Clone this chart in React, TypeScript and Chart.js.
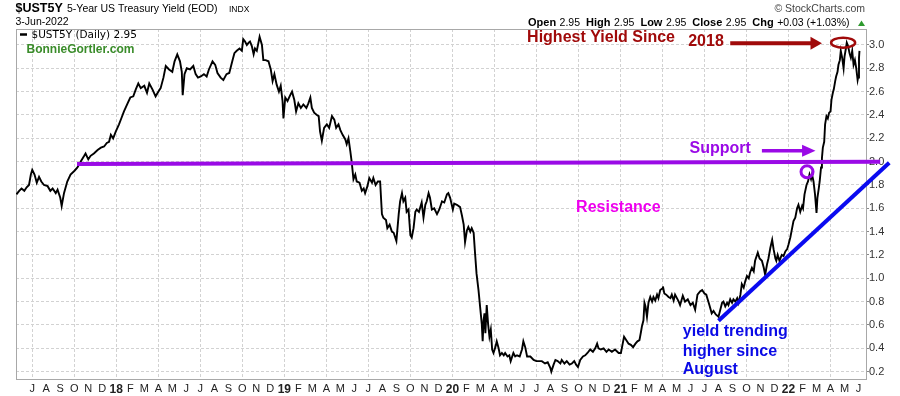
import { useEffect, useRef } from 'react';
import { Chart, registerables } from 'chart.js';

Chart.register(...registerables);

// ---- data: month-day per year + yields ----
const days2017: string[] = [
  '05-28','06-03','06-08','06-14','06-19','06-24','06-28','07-01','07-06','07-11',
  '07-16','07-21','07-27','08-04','08-10','08-15','08-22','08-26','09-01','09-04',
  '09-09','09-16','09-23','10-01','10-08','10-15','10-23','10-26','11-01','11-06',
  '11-13','11-21','11-28','12-05','12-11','12-16','12-20','12-25','12-31',
];
const yields2017: number[] = [
  1.72,1.75,1.77,1.75,1.78,1.80,1.89,1.93,1.89,1.82,
  1.87,1.83,1.80,1.79,1.75,1.77,1.73,1.76,1.69,1.62,
  1.73,1.83,1.89,1.92,1.95,2.00,2.05,2.07,2.02,2.05,
  2.07,2.10,2.12,2.13,2.16,2.17,2.23,2.20,2.26,
];
const days2018: string[] = [
  '01-07','01-12','01-18','01-26','02-01','02-07','02-12','02-17','02-22','03-01',
  '03-07','03-12','03-19','03-26','04-01','04-06','04-12','04-17','04-24','05-01',
  '05-06','05-12','05-18','05-22','05-24','05-28','06-02','06-09','06-16','06-21',
  '06-26','07-02','07-09','07-15','07-20','07-28','08-03','08-08','08-15','08-21',
  '08-28','09-03','09-10','09-14','09-19','09-25','09-30','10-03','10-07','10-11',
  '10-15','10-18','10-22','10-26','10-29','11-02','11-08','11-13','11-16','11-21',
  '11-27','12-02','12-06','12-10','12-15','12-20','12-24','12-28','12-30',
];
const yields2018: number[] = [
  2.32,2.37,2.43,2.50,2.55,2.56,2.62,2.67,2.63,2.65,
  2.59,2.67,2.62,2.56,2.60,2.63,2.72,2.82,2.79,2.77,
  2.86,2.92,2.86,2.77,2.57,2.75,2.80,2.79,2.82,2.75,
  2.72,2.73,2.75,2.73,2.79,2.86,2.83,2.76,2.72,2.70,
  2.75,2.76,2.87,2.93,2.95,2.97,2.95,3.05,3.03,3.00,
  3.02,3.03,2.99,2.92,2.97,2.95,3.07,3.00,2.87,2.87,
  2.86,2.79,2.69,2.75,2.66,2.60,2.65,2.52,2.37,
];
const days2019: string[] = [
  '01-03','01-08','01-14','01-18','01-23','01-27','02-01','02-06','02-11','02-17',
  '02-21','02-25','02-28','03-05','03-11','03-15','03-18','03-22','03-27','04-02',
  '04-07','04-13','04-18','04-22','04-27','05-01','05-06','05-12','05-15','05-19',
  '05-23','05-26','05-30','06-03','06-06','06-12','06-17','06-21','06-24','06-29',
  '07-03','07-09','07-12','07-17','07-22','07-27','07-31','08-03','08-09','08-12',
  '08-17','08-22','08-26','09-01','09-06','09-09','09-13','09-16','09-20','09-23',
  '09-27','10-01','10-04','10-08','10-12','10-15','10-20','10-26','10-30','11-03',
  '11-06','11-10','11-13','11-17','11-22','11-28','12-03','12-09','12-14','12-20',
  '12-23','12-27',
];
const yields2019: number[] = [
  2.55,2.52,2.57,2.60,2.53,2.43,2.50,2.46,2.49,2.46,
  2.50,2.55,2.46,2.42,2.40,2.39,2.26,2.18,2.29,2.32,
  2.29,2.39,2.36,2.29,2.32,2.27,2.23,2.19,2.15,2.20,
  2.09,2.00,1.85,1.89,1.83,1.82,1.75,1.77,1.73,1.79,
  1.86,1.82,1.86,1.80,1.83,1.83,1.55,1.52,1.50,1.43,
  1.46,1.40,1.39,1.32,1.55,1.66,1.73,1.66,1.69,1.57,
  1.59,1.37,1.35,1.43,1.57,1.59,1.57,1.65,1.52,1.63,
  1.66,1.73,1.69,1.59,1.60,1.55,1.59,1.66,1.65,1.72,
  1.73,1.69,
];
const days2020: string[] = [
  '01-02','01-05','01-11','01-18','01-22','01-26','01-29','02-02','02-05','02-09',
  '02-12','02-16','02-19','02-22','02-26','03-01','03-04','03-06','03-08','03-10',
  '03-12','03-15','03-18','03-21','03-24','03-27','03-30','04-03','04-06','04-10',
  '04-13','04-17','04-21','04-24','04-29','05-03','05-06','05-12','05-16','05-20',
  '05-26','05-31','06-03','06-07','06-11','06-18','06-25','07-01','07-06','07-13',
  '07-20','07-26','08-01','08-03','08-08','08-12','08-17','08-23','08-26','09-01',
  '09-06','09-12','09-17','09-22','09-26','09-30','10-05','10-11','10-16','10-21',
  '10-27','11-02','11-07','11-11','11-14','11-19','11-25','12-01','12-06','12-13',
  '12-20','12-28',
];
const yields2020: number[] = [
  1.59,1.64,1.63,1.61,1.54,1.46,1.31,1.41,1.44,1.40,
  1.43,1.39,1.21,1.04,0.90,0.73,0.61,0.46,0.64,0.70,
  0.53,0.77,0.61,0.50,0.56,0.39,0.36,0.41,0.46,0.40,
  0.34,0.36,0.34,0.36,0.33,0.34,0.29,0.36,0.33,0.34,
  0.33,0.39,0.46,0.41,0.33,0.33,0.30,0.29,0.29,0.29,
  0.27,0.28,0.23,0.20,0.26,0.30,0.29,0.27,0.30,0.27,
  0.29,0.26,0.27,0.29,0.26,0.24,0.30,0.33,0.34,0.36,
  0.39,0.37,0.40,0.44,0.40,0.39,0.40,0.37,0.39,0.37,
  0.39,0.36,
];
const days2021: string[] = [
  '01-02','01-06','01-09','01-14','01-19','01-24','01-29','02-03','02-07','02-11',
  '02-14','02-16','02-19','02-21','02-23','02-26','03-01','03-05','03-09','03-12',
  '03-16','03-20','03-23','03-27','03-31','04-02','04-05','04-09','04-14','04-18',
  '04-21','04-25','04-28','05-02','05-06','05-09','05-15','05-20','05-26','06-01',
  '06-06','06-11','06-16','06-22','06-26','07-01','07-05','07-08','07-12','07-17',
  '07-21','07-26','08-01','08-05','08-09','08-12','08-16','08-20','08-23','08-27',
  '08-31','09-03','09-07','09-11','09-14','09-18','09-21','09-25','09-28','10-02',
  '10-06','10-09','10-13','10-17','10-20','10-26','10-30','11-04','11-08','11-11',
  '11-15','11-18','11-22','11-26','11-29','12-03','12-05','12-08','12-12','12-17',
  '12-21','12-25','12-29',
];
const yields2021: number[] = [
  0.36,0.44,0.50,0.47,0.44,0.43,0.41,0.44,0.46,0.47,
  0.54,0.59,0.64,0.79,0.76,0.67,0.79,0.84,0.80,0.84,
  0.81,0.86,0.83,0.90,0.91,0.93,0.87,0.86,0.84,0.83,
  0.86,0.81,0.86,0.83,0.80,0.77,0.85,0.80,0.82,0.77,
  0.79,0.73,0.86,0.89,0.90,0.87,0.86,0.82,0.77,0.70,
  0.72,0.69,0.67,0.73,0.79,0.80,0.76,0.79,0.77,0.82,
  0.79,0.82,0.80,0.83,0.79,0.86,0.95,0.92,0.97,1.02,
  1.00,1.05,1.09,1.06,1.15,1.22,1.17,1.15,1.09,1.03,
  1.12,1.17,1.26,1.33,1.25,1.17,1.15,1.20,1.15,1.20,
  1.19,1.23,1.25,
];
const days2022: string[] = [
  '01-01','01-05','01-09','01-12','01-16','01-20','01-23','01-27','01-31','02-02',
  '02-05','02-09','02-12','02-15','02-18','02-20','02-23','02-26','03-01','03-03',
  '03-06','03-08','03-11','03-13','03-15','03-18','03-20','03-23','03-26','03-29',
  '04-01','04-03','04-06','04-08','04-11','04-13','04-16','04-18','04-21','04-23',
  '04-26','04-29','05-01','05-04','05-06','05-09','05-12','05-15','05-18','05-21',
  '05-24','05-27','05-30','05-31','06-02','06-03',
];
const yields2022: number[] = [
  1.29,1.35,1.43,1.49,1.52,1.60,1.63,1.57,1.62,1.60,
  1.72,1.80,1.83,1.89,1.85,1.89,1.83,1.72,1.56,1.69,
  1.77,1.83,1.95,2.03,2.12,2.17,2.32,2.39,2.37,2.42,
  2.43,2.53,2.59,2.62,2.69,2.73,2.77,2.83,2.87,2.95,
  2.89,2.80,2.90,2.97,3.02,2.99,2.93,2.89,2.95,2.83,
  2.87,2.80,2.70,2.72,2.89,2.95,
];

const yTickValues: number[] = [0.2, 0.4, 0.6, 0.8, 1.0, 1.2, 1.4, 1.6, 1.8, 2.0, 2.2, 2.4, 2.6, 2.8, 3.0];
const monthLetters: string[] = ['J', 'F', 'M', 'A', 'M', 'J', 'J', 'A', 'S', 'O', 'N', 'D'];
const firstTickDate = '2017-07-01';
const lastTickDate = '2022-06-01';
const xRange: string[] = ['2017-05-27', '2022-06-17'];
const yRange: number[] = [0.137, 3.137];

const FONT = "'Liberation Sans', Arial, sans-serif";

const years: [number, string[], number[]][] = [
  [2017, days2017, yields2017],
  [2018, days2018, yields2018],
  [2019, days2019, yields2019],
  [2020, days2020, yields2020],
  [2021, days2021, yields2021],
  [2022, days2022, yields2022],
];

// month index since Jan 2017
function toT(s: string): number {
  const [y, m, d] = s.split('-').map(Number);
  const dim = new Date(y, m, 0).getDate();
  return (y - 2017) * 12 + (m - 1) + (d - 1) / dim;
}

function arrow(ctx: CanvasRenderingContext2D, x1: number, xb: number, xt: number, y: number, w: number, h: number, color: string) {
  ctx.save();
  ctx.strokeStyle = color;
  ctx.fillStyle = color;
  ctx.lineWidth = w;
  ctx.beginPath();
  ctx.moveTo(x1, y);
  ctx.lineTo(xb + 1, y);
  ctx.stroke();
  ctx.beginPath();
  ctx.moveTo(xb, y - h);
  ctx.lineTo(xt, y);
  ctx.lineTo(xb, y + h);
  ctx.closePath();
  ctx.fill();
  ctx.restore();
}

const framePlugin = {
  id: 'frame',
  beforeDraw(chart: any) {
    const { ctx, width, height } = chart;
    ctx.save();
    ctx.fillStyle = '#ffffff';
    ctx.fillRect(0, 0, width, height);
    ctx.restore();
  },
  beforeDatasetsDraw(chart: any) {
    const { ctx, chartArea: a } = chart;
    ctx.save();
    ctx.strokeStyle = '#a8a8a8';
    ctx.lineWidth = 1;
    ctx.strokeRect(Math.round(a.left) + 0.5, Math.round(a.top) + 0.5, Math.round(a.right - a.left), Math.round(a.bottom - a.top));
    ctx.restore();
  },
};

const annotPlugin = {
  id: 'annot',
  afterDraw(chart: any) {
    const { ctx, scales } = chart;
    const xs = scales.x;
    const ys = scales.y;
    const X = (d: string) => xs.getPixelForValue(toT(d));
    const Y = (v: number) => ys.getPixelForValue(v);

    ctx.save();
    ctx.textBaseline = 'middle';
    ctx.textAlign = 'left';

    // Support line (purple)
    const purple = '#9a0ae6';
    ctx.strokeStyle = purple;
    ctx.lineWidth = 4;
    ctx.beginPath();
    ctx.moveTo(X('2017-10-07'), Y(1.98));
    ctx.lineTo(X('2022-07-18'), Y(2.0));
    ctx.stroke();

    // Blue trend line
    ctx.strokeStyle = '#0a0af0';
    ctx.lineWidth = 4;
    ctx.beginPath();
    ctx.moveTo(X('2021-08-01'), Y(0.636));
    ctx.lineTo(X('2022-08-07'), Y(1.99));
    ctx.stroke();

    // Support label + arrow
    ctx.font = `bold 16px ${FONT}`;
    ctx.fillStyle = purple;
    ctx.fillText('Support', X('2021-05-30'), Y(2.108));
    arrow(ctx, X('2021-11-04'), X('2022-01-31'), X('2022-02-27'), Y(2.094), 3.5, 6, purple);
    // purple circle
    ctx.strokeStyle = purple;
    ctx.lineWidth = 3;
    ctx.beginPath();
    ctx.arc(X('2022-02-10'), Y(1.914), 6, 0, Math.PI * 2);
    ctx.stroke();

    // Resistance
    ctx.fillStyle = '#ee00ee';
    ctx.fillText('Resistance', X('2020-09-26'), Y(1.607));

    // yield trending text
    ctx.fillStyle = '#0a0ae6';
    const tx = X('2021-05-15');
    ctx.fillText('yield trending', tx, Y(0.542));
    ctx.fillText('higher since', tx, Y(0.371));
    ctx.fillText('August', tx, Y(0.214));

    // Highest yield
    const red = '#a00a0a';
    ctx.fillStyle = red;
    ctx.fillText('Highest Yield Since', X('2020-06-11'), Y(3.06));
    ctx.fillText('2018', X('2021-05-27'), Y(3.026));
    arrow(ctx, X('2021-08-27'), X('2022-02-17'), X('2022-03-13'), Y(3.015), 4, 6.5, red);
    ctx.strokeStyle = red;
    ctx.lineWidth = 2.5;
    ctx.beginPath();
    ctx.ellipse(X('2022-04-28'), Y(3.02), 12, 5, 0, 0, Math.PI * 2);
    ctx.stroke();

    // ---- header texts ----
    ctx.fillStyle = '#000';
    ctx.font = `bold 12.5px ${FONT}`;
    ctx.fillText('$UST5Y', 15.5, 9);
    ctx.font = `10.5px ${FONT}`;
    ctx.fillText('5-Year US Treasury Yield (EOD)', 67, 9);
    ctx.font = `8.5px ${FONT}`;
    ctx.fillText('INDX', 229, 9.5);
    ctx.font = `10.5px ${FONT}`;
    ctx.fillText('3-Jun-2022', 15.5, 22);

    ctx.textAlign = 'right';
    ctx.fillStyle = '#444';
    ctx.font = `10.5px ${FONT}`;
    ctx.fillText('\u00A9 StockCharts.com', 865, 9);
    ctx.textAlign = 'left';

    // quote line
    const parts: [string, boolean][] = [
      ['Open', true], ['2.95', false], ['High', true], ['2.95', false], ['Low', true], ['2.95', false],
      ['Close', true], ['2.95', false], ['Chg', true], ['+0.03 (+1.03%)', false],
    ];
    let qx = 528;
    ctx.fillStyle = '#000';
    parts.forEach(([txt, bold]) => {
      ctx.font = bold ? `bold 11px ${FONT}` : `10.5px ${FONT}`;
      ctx.fillText(txt, qx, 23);
      qx += ctx.measureText(txt).width + (bold ? 3.5 : 6);
    });
    ctx.fillStyle = '#2e9a2e';
    ctx.beginPath();
    ctx.moveTo(858, 26);
    ctx.lineTo(865, 26);
    ctx.lineTo(861.5, 20.5);
    ctx.closePath();
    ctx.fill();

    // legend inside plot
    ctx.strokeStyle = '#000';
    ctx.lineWidth = 2.5;
    ctx.beginPath();
    ctx.moveTo(20, 34.5);
    ctx.lineTo(27, 34.5);
    ctx.stroke();
    ctx.fillStyle = '#000';
    ctx.font = `10.5px 'DejaVu Sans', sans-serif`;
    ctx.fillText('$UST5Y (Daily) 2.95', 31.5, 35);
    ctx.fillStyle = '#3a8c2a';
    ctx.font = `bold 12px ${FONT}`;
    ctx.fillText('BonnieGortler.com', 26.5, 50);

    ctx.restore();
  },
};

export default function App() {
  const ref = useRef<HTMLCanvasElement | null>(null);

  useEffect(() => {
    document.body.style.margin = '0';
    const canvas = ref.current;
    if (!canvas) return;
    const points: { x: number; y: number }[] = [];
    years.forEach(([yr, ds, vs]) => {
      ds.forEach((d, i) => points.push({ x: toT(`${yr}-${d}`), y: vs[i] }));
    });
    const t0 = toT(firstTickDate);
    const t1 = toT(lastTickDate);

    const chart = new Chart(canvas, {
      type: 'line',
      data: {
        datasets: [
          {
            data: points,
            borderColor: '#000000',
            borderWidth: 1.9,
            pointRadius: 0,
            tension: 0,
            fill: false,
          },
        ],
      },
      options: {
        animation: false,
        responsive: false,
        maintainAspectRatio: false,
        devicePixelRatio: 1,
        parsing: false,
        normalized: true,
        layout: { padding: { left: 16, top: 29, right: 0, bottom: 0 } },
        plugins: { legend: { display: false }, tooltip: { enabled: false } },
        scales: {
          x: {
            type: 'linear',
            min: toT(xRange[0]),
            max: toT(xRange[1]),
            afterBuildTicks: (s: any) => {
              const ticks = [];
              for (let t = Math.round(t0); t <= Math.round(t1); t++) ticks.push({ value: t });
              s.ticks = ticks;
            },
            afterFit: (s: any) => { s.height = 17; },
            border: { display: false, dash: [3, 2] },
            grid: {
              drawTicks: false,
              color: (c: any) => (c.tick && c.tick.value % 3 === 0 ? '#d2d2d2' : 'rgba(0,0,0,0)'),
              lineWidth: 1,
            },
            ticks: {
              autoSkip: false,
              maxRotation: 0,
              minRotation: 0,
              padding: 3,
              color: '#222',
              font: (c: any) => {
                const isYear = c.tick && c.tick.value % 12 === 0;
                return { family: FONT, size: isYear ? 12 : 11, weight: isYear ? 'bold' : 'normal' };
              },
              callback: (v: any) => {
                const t = Math.round(Number(v));
                const m = ((t % 12) + 12) % 12;
                if (m === 0) return String(17 + t / 12).padStart(2, '0');
                return monthLetters[m];
              },
            },
          },
          y: {
            type: 'linear',
            position: 'right',
            min: yRange[0],
            max: yRange[1],
            afterBuildTicks: (s: any) => {
              s.ticks = yTickValues.map((v) => ({ value: v }));
            },
            afterFit: (s: any) => { s.width = 34; },
            border: { display: false, dash: [3, 2] },
            grid: {
              color: '#d2d2d2',
              lineWidth: 1,
              drawTicks: true,
              tickLength: 3,
              tickColor: '#888',
              tickBorderDash: [],
            },
            ticks: {
              padding: 0,
              color: '#333',
              font: { family: FONT, size: 11 },
              callback: (v: any) => Number(v).toFixed(1),
            },
          },
        },
      },
      plugins: [framePlugin, annotPlugin],
    } as any);

    return () => chart.destroy();
  }, []);

  return (
    <div style={{ width: 900, height: 396 }}>
      <canvas ref={ref} width={900} height={396} style={{ display: 'block' }} />
    </div>
  );
}
